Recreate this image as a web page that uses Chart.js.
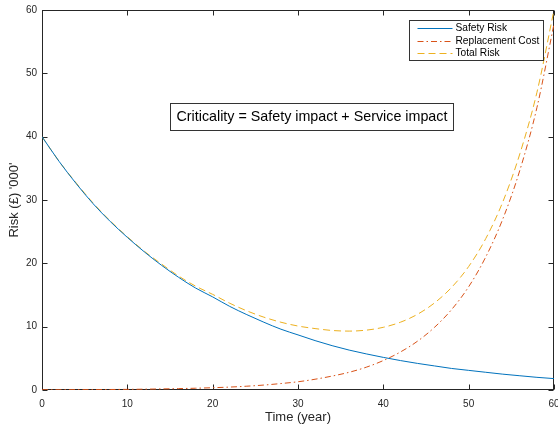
<!DOCTYPE html>
<html>
<head>
<meta charset="utf-8">
<script src="https://cdn.jsdelivr.net/npm/chart.js@4.4.1/dist/chart.umd.min.js"></script>
<style>
  html, body { margin: 0; padding: 0; background: #fff; }
  canvas { display: block; }
</style>
</head>
<body>
<canvas id="myChart" width="558" height="425"></canvas>
<script>
// values, every 2 years
const years = [0, 2, 4, 6, 8, 10, 12, 14, 16, 18, 20, 22, 24, 26, 28, 30,
               32, 34, 36, 38, 40, 42, 44, 46, 48, 50, 52, 54, 56, 58, 60];
const safetyRisk = [40.0, 36.1, 32.6, 29.4, 26.6, 24.1, 21.8, 19.7, 17.8, 16.1, 14.7, 13.2, 11.9, 10.7, 9.6, 8.7,
                    7.8, 7.0, 6.3, 5.7, 5.15, 4.65, 4.2, 3.8, 3.4, 3.1, 2.8, 2.5, 2.25, 2.0, 1.8];
const replacementCost = [0.03, 0.04, 0.05, 0.06, 0.08, 0.1, 0.13, 0.17, 0.22, 0.28, 0.36, 0.46, 0.6, 0.78, 1.02, 1.3,
                         1.7, 2.2, 2.8, 3.6, 4.65, 6.0, 7.7, 9.9, 12.7, 16.3, 21.0, 27.0, 34.7, 44.6, 57.8];
const totalRisk = [40.0, 36.1, 32.7, 29.5, 26.7, 24.2, 21.9, 19.9, 18.0, 16.4, 15.1, 13.7, 12.5, 11.5, 10.7, 10.1,
                   9.7, 9.4, 9.3, 9.45, 9.9, 10.7, 11.95, 13.75, 16.2, 19.5, 23.9, 29.7, 37.3, 47.0, 60.0];
const seriesNames = ['Safety Risk', 'Replacement Cost', 'Total Risk'];
const xTicks = [0, 10, 20, 30, 40, 50, 60];
const yTicks = [0, 10, 20, 30, 40, 50, 60];
const noteText = 'Criticality = Safety impact + Service impact';
const noteAt = { x: 15.05, y: 43.15 };

const FONT = "'Liberation Sans', Arial, Helvetica, sans-serif";
const AXIS = '#262626';

function pts(ys) {
    return years.map((x, i) => ({ x: x, y: ys[i] }));
}

// box and inward ticks under the lines, text box and legend on top
const matlabFrame = {
    id: 'matlabFrame',
    beforeDraw(chart) {
        const ctx = chart.ctx;
        ctx.save();
        ctx.fillStyle = '#fff';
        ctx.fillRect(0, 0, chart.width, chart.height);
        ctx.restore();
    },
    beforeDatasetsDraw(chart) {
        const ctx = chart.ctx;
        const a = chart.chartArea;
        const xs = chart.scales.x, ys = chart.scales.y;
        const L = Math.round(a.left) + 0.5, R = Math.round(a.right) - 0.5;
        const T = Math.round(a.top) + 0.5, B = Math.round(a.bottom) - 0.5;
        ctx.save();
        ctx.strokeStyle = AXIS;
        ctx.lineWidth = 1;
        ctx.strokeRect(L, T, R - L, B - T);
        ctx.beginPath();
        xTicks.forEach(v => {
            const px = Math.round(xs.getPixelForValue(v)) + 0.5;
            ctx.moveTo(px, B); ctx.lineTo(px, B - 5);
            ctx.moveTo(px, T); ctx.lineTo(px, T + 5);
        });
        yTicks.forEach(v => {
            const py = Math.round(ys.getPixelForValue(v)) + 0.5;
            ctx.moveTo(L, py); ctx.lineTo(L + 5, py);
            ctx.moveTo(R, py); ctx.lineTo(R - 5, py);
        });
        ctx.stroke();
        ctx.restore();
    },
    afterDraw(chart) {
        const ctx = chart.ctx;
        const a = chart.chartArea;
        const xs = chart.scales.x, ys = chart.scales.y;
        ctx.save();
        ctx.lineWidth = 1;

        // text box
        ctx.font = '14.3px ' + FONT;
        ctx.textBaseline = 'middle';
        ctx.textAlign = 'left';
        const tw = ctx.measureText(noteText).width;
        const bx = Math.round(xs.getPixelForValue(noteAt.x)) + 0.5;
        const by = ys.getPixelForValue(noteAt.y);
        const bw = Math.round(tw + 12), bh = 27;
        const btop = Math.round(by - bh / 2) + 0.5;
        ctx.fillStyle = '#fff';
        ctx.fillRect(bx, btop, bw, bh);
        ctx.strokeStyle = '#333';
        ctx.strokeRect(bx, btop, bw, bh);
        ctx.fillStyle = '#000';
        ctx.fillText(noteText, bx + 6, btop + bh / 2 + 0.5);

        // legend
        const lw = 134, lh = 40;
        const lx = Math.round(a.right) - 11 - lw + 0.5;
        const ly = Math.round(a.top) + 10 + 0.5;
        ctx.fillStyle = '#fff';
        ctx.fillRect(lx, ly, lw, lh);
        ctx.strokeStyle = '#333';
        ctx.setLineDash([]);
        ctx.strokeRect(lx, ly, lw, lh);
        ctx.font = '10.2px ' + FONT;
        chart.data.datasets.forEach((ds, i) => {
            const ry = ly + 7.5 + i * 12.5;
            ctx.beginPath();
            ctx.strokeStyle = ds.borderColor;
            ctx.setLineDash(ds.borderDash || []);
            ctx.moveTo(lx + 8, Math.round(ry) + 0.5);
            ctx.lineTo(lx + 43, Math.round(ry) + 0.5);
            ctx.stroke();
            ctx.setLineDash([]);
            ctx.fillStyle = '#000';
            ctx.fillText(ds.label, lx + 46, ry + 0.5);
        });
        ctx.restore();
    }
};

const ctx = document.getElementById('myChart').getContext('2d');
const myChart = new Chart(ctx, {
    type: 'line',
    data: {
        datasets: [{
            label: seriesNames[0],
            data: pts(safetyRisk),
            borderColor: '#0072BD',
            borderWidth: 1,
            borderDash: []
        }, {
            label: seriesNames[1],
            data: pts(replacementCost),
            borderColor: '#D95319',
            borderWidth: 1,
            borderDash: [6, 3, 1.5, 3]
        }, {
            label: seriesNames[2],
            data: pts(totalRisk),
            borderColor: '#EDB120',
            borderWidth: 1,
            borderDash: [7, 4]
        }]
    },
    options: {
        responsive: false,
        animation: false,
        layout: { padding: { top: 10, right: 4, left: 0, bottom: 0 } },
        elements: {
            point: { radius: 0 },
            line: { cubicInterpolationMode: 'monotone', fill: false }
        },
        plugins: {
            legend: { display: false },
            tooltip: { enabled: false }
        },
        scales: {
            x: {
                type: 'linear',
                min: 0,
                max: 60,
                afterFit: s => { s.height = 35; s.paddingLeft = 0; s.paddingRight = 0; },
                afterBuildTicks: s => { s.ticks = xTicks.map(v => ({ value: v })); },
                ticks: { color: AXIS, padding: 8, font: { family: FONT, size: 10 }, maxRotation: 0 },
                grid: { drawOnChartArea: false, drawTicks: false },
                border: { display: false },
                title: { display: true, text: 'Time (year)', color: AXIS, padding: 0, font: { family: FONT, size: 13 } }
            },
            y: {
                min: 0,
                max: 60,
                afterFit: s => { s.width = 42; s.paddingTop = 0; s.paddingBottom = 0; },
                afterBuildTicks: s => { s.ticks = yTicks.map(v => ({ value: v })); },
                ticks: { color: AXIS, padding: 5, font: { family: FONT, size: 10 } },
                grid: { drawOnChartArea: false, drawTicks: false },
                border: { display: false },
                title: { display: true, text: "Risk (£) '000'", color: AXIS, padding: { top: 7, bottom: 0 }, font: { family: FONT, size: 13 } }
            }
        }
    },
    plugins: [matlabFrame]
});
</script>
</body>
</html>
